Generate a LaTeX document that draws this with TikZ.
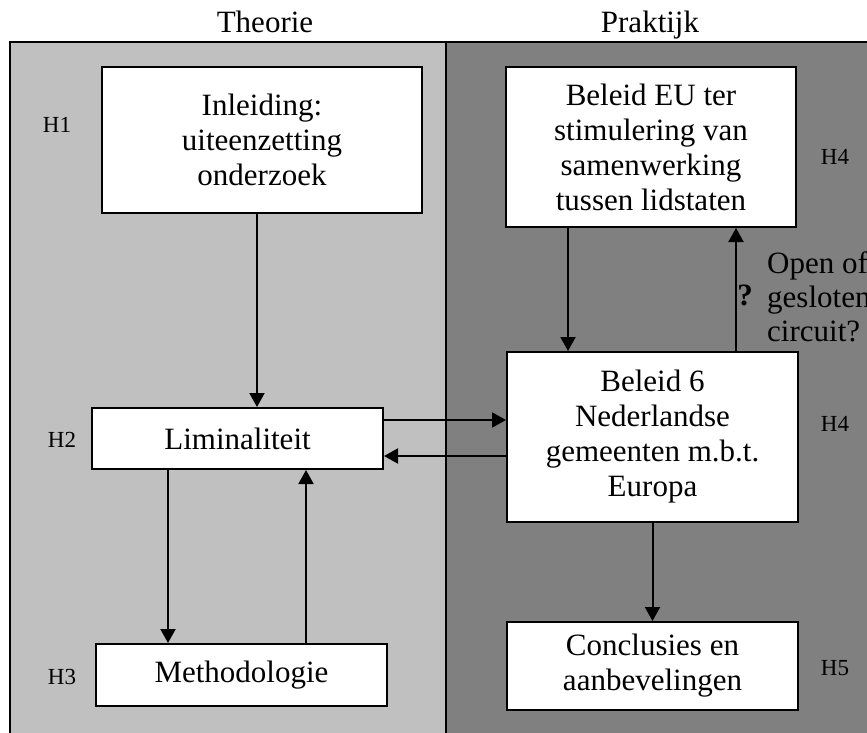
\documentclass[tikz,border=0pt]{standalone}
\usepackage{fontspec}
\setmainfont{Liberation Serif}
\usetikzlibrary{positioning, arrows.meta}
\definecolor{theoriegray}{HTML}{C0C0C0}
\definecolor{praktijkgray}{HTML}{808080}

\begin{document}
\begin{tikzpicture}[x=1pt, y=-1pt,
    box/.style={draw, line width=2pt, fill=white, align=center, inner sep=0pt,
      font=\fontsize{31}{35}\selectfont},
    hlabel/.style={font=\fontsize{23}{26}\selectfont},
    head/.style={font=\fontsize{31}{35}\selectfont, anchor=base},
    arr/.style={line width=2pt, -{Triangle[length=14pt, width=15pt]}}]
    \useasboundingbox (0,0) rectangle (867,733);

    % Panels
    \fill[theoriegray] (10,42) rectangle (446,745);
    \fill[praktijkgray] (446,42) rectangle (885,745);
    \draw[line width=2pt] (10,42) rectangle (885,745);
    \draw[line width=2pt] (446,42) -- (446,745);

    % Headers
    \node[head] (theorie) at (265,33) {Theorie};
    \node[head] (praktijk) at (650,33) {Praktijk};

    % Theorie
    \node[box, minimum width=320pt, minimum height=146pt] (intro) at (262,140) {Inleiding:\\uiteenzetting\\onderzoek};
    \node[box, minimum width=291pt, minimum height=61pt] (limi) at (237.5,438.5) {Liminaliteit};
    \node[box, minimum width=291pt, minimum height=62pt] (method) at (241.5,675) {Methodologie};

    % Praktijk
    \node[box, minimum width=290pt, minimum height=160pt] (eu) at (651,147) {Beleid EU ter\\stimulering van\\samenwerking\\tussen lidstaten};
    \node[box, minimum width=291pt, minimum height=170pt] (gem) at (652.5,437) {Beleid 6\\Nederlandse\\gemeenten m.b.t.\\Europa};
    \node[box, minimum width=291pt, minimum height=88pt] (concl) at (652.5,666) {Conclusies en\\aanbevelingen};

    % Chapters
    \node[hlabel] (h1) at (57,125) {H1};
    \node[hlabel] (h2) at (62,440) {H2};
    \node[hlabel] (h3) at (62,677) {H3};
    \node[hlabel] (h4a) at (835,157) {H4};
    \node[hlabel] (h4b) at (835,424) {H4};
    \node[hlabel] (h5) at (835,668) {H5};

    % Circuit
    \node[font=\fontsize{31}{35}\selectfont\bfseries] (vraag) at (745,295) {?};
    \node[font=\fontsize{31}{34}\selectfont, align=left, anchor=west, inner sep=0pt] (circuit) at (767,297) {Open of\\gesloten\\circuit?};

    % Arrows
    \coordinate (heen) at ([yshift=-13pt]limi.north east);
    \coordinate (terug) at ([yshift=14pt]limi.south east);
    \draw[arr] ([xshift=-5pt]intro.south) -- ([xshift=-5pt]intro.south |- limi.north);
    \draw[arr] ([xshift=77pt]limi.south west) -- ([xshift=77pt]limi.south west |- method.north);
    \draw[arr] ([xshift=211pt]method.north west) -- ([xshift=211pt]method.north west |- limi.south);
    \draw[arr] (heen) -- (heen -| gem.west);
    \draw[arr] (terug -| gem.west) -- (terug);
    \draw[arr] ([xshift=63pt]eu.south west) -- ([xshift=63pt]eu.south west |- gem.north);
    \draw[arr] ([xshift=-63pt]gem.north east) -- ([xshift=-63pt]gem.north east |- eu.south);
    \draw[arr] (gem.south) -- (concl.north);
\end{tikzpicture}
\end{document}
